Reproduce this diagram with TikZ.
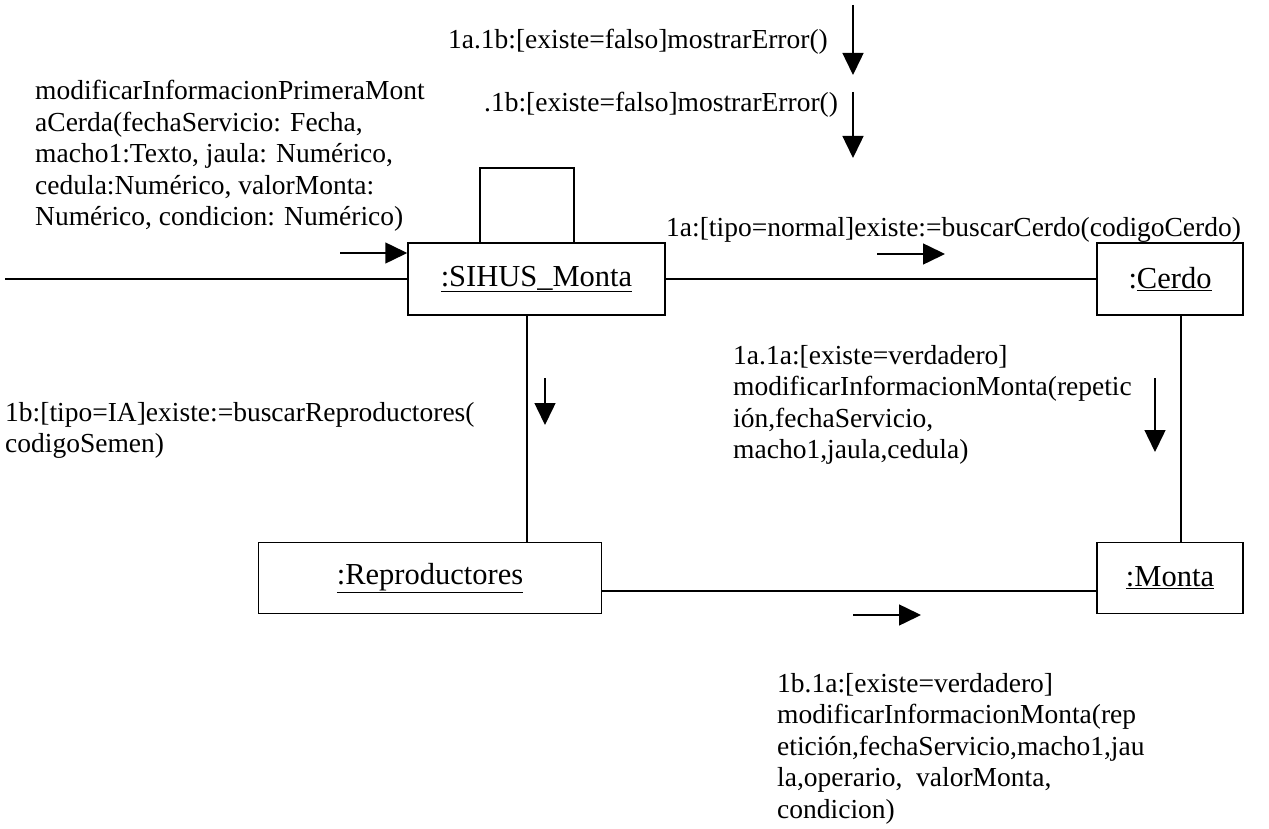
\documentclass[tikz,border=0pt]{standalone}
\usepackage{fontspec}
\setmainfont{Liberation Serif}
\usetikzlibrary{arrows.meta}

\begin{document}
\begin{tikzpicture}[x=1pt, y=-1pt,
    font=\fontsize{27.5}{31.5}\selectfont,
    obj/.style={draw, line width=1.5pt, inner sep=0pt, font=\fontsize{30.5}{34}\selectfont},
    lbl/.style={align=left, inner sep=0pt},
    msg/.style={-{Triangle[length=22pt,width=21pt]}, line width=1.5pt}]
    \useasboundingbox (0,0) rectangle (1269,829);

    % 对象
    \node[obj, minimum width=257pt, minimum height=72pt] (sihus) at (536.5,279) {\underline{:SIHUS\_Monta}};
    \node[obj, minimum width=146pt, minimum height=72pt] (cerdo) at (1170,279) {:\underline{Cerdo}};
    \node[obj, minimum width=343pt, minimum height=71pt] (repro) at (430,578) {\underline{:Reproductores}};
    \node[obj, minimum width=146pt, minimum height=71pt] (monta) at (1170,578) {\underline{:Monta}};

    % 连线
    \coordinate (actor) at (5,279);
    \draw[line width=1.5pt] (actor) -- (sihus.west);
    \draw[line width=1.5pt] (sihus.east) -- (cerdo.west);
    \draw[line width=1.5pt] ([xshift=11pt]cerdo.south) -- ([xshift=11pt]monta.north);
    \draw[line width=1.5pt] ([xshift=-9.5pt]sihus.south) -- ([xshift=-9.5pt]sihus.south |- repro.north);
    \draw[line width=1.5pt] ([yshift=-13pt]repro.east) -- ([yshift=-13pt]monta.west);
    % 自身调用
    \draw[line width=1.5pt] ([xshift=-56.5pt]sihus.north) -- ++(0,-74) -| ([xshift=37.5pt]sihus.north);

    % 消息箭头
    \draw[msg] (340,253) -- (sihus.west |- 0,253);
    \draw[msg] (877,254) -- (945,254);
    \draw[msg] (1155,378) -- (1155,452);
    \draw[msg] (545,378) -- (545,425);
    \draw[msg] (853,615) -- (921,615);
    \draw[msg] (853,5) -- (853,75);
    \draw[msg] (853,92) -- (853,158);

    % 消息标签
    \node[lbl, anchor=north west] (l0) at (35,80) {modificarInformacionPrimeraMont\\aCerda(fechaServicio: Fecha,\\macho1:Texto, jaula: Numérico,\\cedula:Numérico, valorMonta:\\Numérico, condicion: Numérico)};
    \node[lbl, anchor=east] (l1a1b) at (828,42) {1a.1b:[existe=falso]mostrarError()};
    \node[lbl, anchor=west] (l1b1b) at (484,105) {.1b:[existe=falso]mostrarError()};
    \node[lbl, anchor=west] (l1a) at (666,230) {1a:[tipo=normal]existe:=buscarCerdo(codigoCerdo)};
    \node[lbl, anchor=north west] (l1a1a) at (733,345) {1a.1a:[existe=verdadero]\\modificarInformacionMonta(repetic\\ión,fechaServicio,\\macho1,jaula,cedula)};
    \node[lbl, anchor=north west] (l1b) at (5,402) {1b:[tipo=IA]existe:=buscarReproductores(\\codigoSemen)};
    \node[lbl, anchor=north west] (l1b1a) at (777,673) {1b.1a:[existe=verdadero]\\modificarInformacionMonta(rep\\etición,fechaServicio,macho1,jau\\la,operario,\ \ valorMonta,\\condicion)};
\end{tikzpicture}
\end{document}
